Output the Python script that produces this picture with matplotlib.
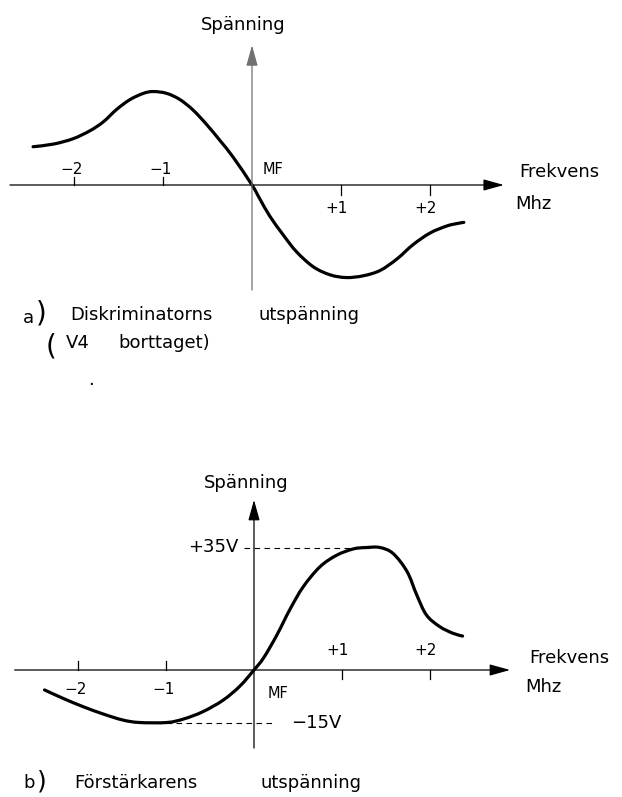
import matplotlib.pyplot as plt
from matplotlib.path import Path
from matplotlib.patches import PathPatch

# a) discriminator output, arbitrary voltage units, frequency in MHz from MF
freq_a = [-2.46, -2.23, -2.01, -1.82, -1.67, -1.52, -1.37, -1.22, -1.11, -0.96,
          -0.81, -0.66, -0.51, -0.36, -0.21, 0.0, 0.09, 0.20, 0.35, 0.50,
          0.69, 0.88, 1.06, 1.25, 1.44, 1.63, 1.81, 2.00, 2.19, 2.32, 2.38]
volt_a = [0.43, 0.46, 0.52, 0.61, 0.71, 0.85, 0.96, 1.03, 1.05, 1.03,
          0.96, 0.84, 0.68, 0.50, 0.31, 0.0, -0.16, -0.35, -0.56, -0.75,
          -0.92, -1.01, -1.04, -1.02, -0.96, -0.83, -0.67, -0.54, -0.46, -0.43, -0.42]

# b) amplifier output in volts
freq_b = [-2.38, -2.17, -1.94, -1.71, -1.49, -1.30, -0.99, -0.80, -0.58, -0.35,
          -0.16, 0.0, 0.11, 0.26, 0.41, 0.56, 0.75, 0.94, 1.13, 1.28,
          1.43, 1.58, 1.74, 1.85, 1.96, 2.11, 2.26, 2.37]
volt_b = [-5.7, -8.1, -10.5, -12.6, -14.3, -15.0, -15.0, -14.0, -11.9, -8.6,
          -4.6, 0.0, 3.5, 10.0, 17.4, 23.8, 29.5, 32.8, 34.6, 35.0,
          35.0, 33.3, 28.1, 21.4, 15.7, 12.4, 10.5, 9.7]

v_max = 35
v_min = -15
ticks_neg = [-2, -1]
ticks_pos = [1, 2]

W, H = 622, 797
fig = plt.figure(figsize=(W / 100, H / 100), dpi=100)
plt.rcParams['font.family'] = 'DejaVu Sans'


def ftxt(x, y, s, size=13, ha='left', **kw):
    fig.text(x / W, 1 - y / H, s, fontsize=size, ha=ha, va='center', **kw)


def arrow(ax, x0, y0, x1, y1, color='k'):
    ax.annotate('', xy=(x1, y1), xytext=(x0, y0),
                arrowprops=dict(arrowstyle='-|>,head_length=0.9,head_width=0.25',
                                lw=0.9, color=color, shrinkA=0, shrinkB=0,
                                mutation_scale=14))


def smooth_curve(ax, xs, ys):
    # Catmull-Rom through the points, drawn as cubic Bezier segments
    pts = list(zip(xs, ys))
    verts = [pts[0]]
    codes = [Path.MOVETO]
    n = len(pts)
    for i in range(n - 1):
        p0 = pts[max(i - 1, 0)]
        p1 = pts[i]
        p2 = pts[i + 1]
        p3 = pts[min(i + 2, n - 1)]
        c1 = (p1[0] + (p2[0] - p0[0]) / 6, p1[1] + (p2[1] - p0[1]) / 6)
        c2 = (p2[0] - (p3[0] - p1[0]) / 6, p2[1] - (p3[1] - p1[1]) / 6)
        verts += [c1, c2, p2]
        codes += [Path.CURVE4] * 3
    ax.add_patch(PathPatch(Path(verts, codes), fill=False, edgecolor='k',
                           lw=2.3, capstyle='round', joinstyle='round'))


# ---- top panel: 89 px per unit, origin at (252, 185) ----
ax1 = fig.add_axes([0, 1 - 400 / H, 1, 400 / H])
ax1.set_xlim(-252 / 89, (W - 252) / 89)
ax1.set_ylim((185 - 400) / 89, 185 / 89)
ax1.set_axis_off()
arrow(ax1, -2.72, 0, 2.83, 0)
arrow(ax1, 0, -1.18, 0, 1.57, color='#707070')
for t in ticks_neg:
    ax1.plot([t, t], [0, 0.09], color='k', lw=0.9)
    ax1.annotate(f'\u2212{abs(t)}', (t, 0), xytext=(-2, 11), textcoords='offset points',
                 ha='center', va='center', fontsize=11)
for t in ticks_pos:
    ax1.plot([t, t], [0, -0.11], color='k', lw=0.9)
    ax1.annotate(f'+{t}', (t, 0), xytext=(-3, -17), textcoords='offset points',
                 ha='center', va='center', fontsize=11)
smooth_curve(ax1, freq_a, volt_a)

ftxt(243, 25, 'Spänning', ha='center')
ftxt(263, 170, 'MF', size=10.5)
ftxt(519, 172, 'Frekvens')
ftxt(515, 204, 'Mhz')
ftxt(23, 318, 'a')
ftxt(36, 314, ')', size=20)
ftxt(70, 315, 'Diskriminatorns')
ftxt(258, 315, 'utspänning')
ftxt(46, 346, '(', size=20)
ftxt(66, 343, 'V4')
ftxt(118, 343, 'borttaget)')
ftxt(88, 380, '.')

# ---- bottom panel: 88 px per MHz, 3.5 px per volt, origin at (254, 670) ----
ax2 = fig.add_axes([0, 0, 1, (H - 400) / H])
ax2.set_xlim(-254 / 88, (W - 254) / 88)
ax2.set_ylim((670 - H) / 3.5, (670 - 400) / 3.5)
ax2.set_axis_off()
arrow(ax2, -2.72, 0, 2.91, 0)
arrow(ax2, 0, -22.3, 0, 48.6)
for t in ticks_neg:
    ax2.plot([t, t], [0, 2.6], color='k', lw=0.9)
    ax2.annotate(f'\u2212{abs(t)}', (t, 0), xytext=(-2, -14), textcoords='offset points',
                 ha='center', va='center', fontsize=11)
for t in ticks_pos:
    ax2.plot([t, t], [0, -2.6], color='k', lw=0.9)
    ax2.annotate(f'+{t}', (t, 0), xytext=(-3, 14), textcoords='offset points',
                 ha='center', va='center', fontsize=11)
ax2.plot([-0.11, 1.32], [v_max, v_max], color='k', lw=0.8, dashes=(5, 4))
ax2.plot([-1.0, 0.25], [v_min, v_min], color='k', lw=0.8, dashes=(5, 4))
smooth_curve(ax2, freq_b, volt_b)
ax2.annotate(f'+{v_max}V', (-0.11, v_max), xytext=(-4, 0), textcoords='offset points',
             ha='right', va='center', fontsize=13)
ax2.annotate(f'\u2212{abs(v_min)}V', (0.25, v_min), xytext=(11, 0), textcoords='offset points',
             ha='left', va='center', fontsize=13)

ftxt(246, 483, 'Spänning', ha='center')
ftxt(268, 693, 'MF', size=10.5)
ftxt(529, 658, 'Frekvens')
ftxt(525, 687, 'Mhz')
ftxt(23, 783, 'b')
ftxt(37, 781, ')', size=18)
ftxt(74, 783, 'Förstärkarens')
ftxt(260, 783, 'utspänning')

fig.savefig('out.png', dpi=100)
